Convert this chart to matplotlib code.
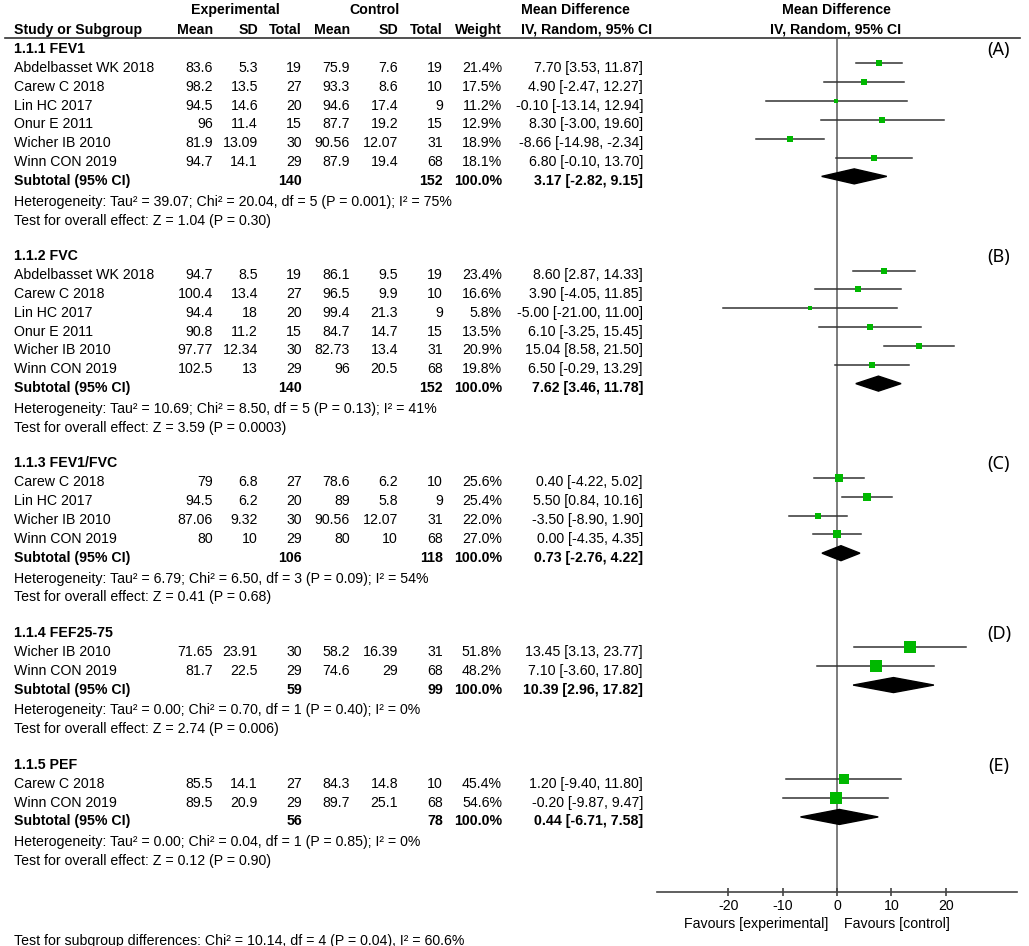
import matplotlib
matplotlib.use('Agg')
import matplotlib.pyplot as plt
from matplotlib.patches import Polygon

plt.rcParams['font.family'] = ['Liberation Sans', 'DejaVu Sans']
plt.rcParams['axes.unicode_minus'] = False

# Datos del forest plot
group_titles = ['1.1.1 FEV1', '1.1.2 FVC', '1.1.3 FEV1/FVC', '1.1.4 FEF25-75', '1.1.5 PEF']
panel_labels = ['(A)', '(B)', '(C)', '(D)', '(E)']

study_names = [
    ['Abdelbasset WK 2018', 'Carew C 2018', 'Lin HC 2017', 'Onur E 2011', 'Wicher IB 2010', 'Winn CON 2019'],
    ['Abdelbasset WK 2018', 'Carew C 2018', 'Lin HC 2017', 'Onur E 2011', 'Wicher IB 2010', 'Winn CON 2019'],
    ['Carew C 2018', 'Lin HC 2017', 'Wicher IB 2010', 'Winn CON 2019'],
    ['Wicher IB 2010', 'Winn CON 2019'],
    ['Carew C 2018', 'Winn CON 2019'],
]
exp_mean = [[83.6, 98.2, 94.5, 96, 81.9, 94.7],
            [94.7, 100.4, 94.4, 90.8, 97.77, 102.5],
            [79, 94.5, 87.06, 80],
            [71.65, 81.7],
            [85.5, 89.5]]
exp_sd = [[5.3, 13.5, 14.6, 11.4, 13.09, 14.1],
          [8.5, 13.4, 18, 11.2, 12.34, 13],
          [6.8, 6.2, 9.32, 10],
          [23.91, 22.5],
          [14.1, 20.9]]
exp_n = [[19, 27, 20, 15, 30, 29],
         [19, 27, 20, 15, 30, 29],
         [27, 20, 30, 29],
         [30, 29],
         [27, 29]]
ctl_mean = [[75.9, 93.3, 94.6, 87.7, 90.56, 87.9],
            [86.1, 96.5, 99.4, 84.7, 82.73, 96],
            [78.6, 89, 90.56, 80],
            [58.2, 74.6],
            [84.3, 89.7]]
ctl_sd = [[7.6, 8.6, 17.4, 19.2, 12.07, 19.4],
          [9.5, 9.9, 21.3, 14.7, 13.4, 20.5],
          [6.2, 5.8, 12.07, 10],
          [16.39, 29],
          [14.8, 25.1]]
ctl_n = [[19, 10, 9, 15, 31, 68],
         [19, 10, 9, 15, 31, 68],
         [10, 9, 31, 68],
         [31, 68],
         [10, 68]]
weights = [[21.4, 17.5, 11.2, 12.9, 18.9, 18.1],
           [23.4, 16.6, 5.8, 13.5, 20.9, 19.8],
           [25.6, 25.4, 22.0, 27.0],
           [51.8, 48.2],
           [45.4, 54.6]]
md = [[7.70, 4.90, -0.10, 8.30, -8.66, 6.80],
      [8.60, 3.90, -5.00, 6.10, 15.04, 6.50],
      [0.40, 5.50, -3.50, 0.00],
      [13.45, 7.10],
      [1.20, -0.20]]
ci_lo = [[3.53, -2.47, -13.14, -3.00, -14.98, -0.10],
         [2.87, -4.05, -21.00, -3.25, 8.58, -0.29],
         [-4.22, 0.84, -8.90, -4.35],
         [3.13, -3.60],
         [-9.40, -9.87]]
ci_hi = [[11.87, 12.27, 12.94, 19.60, -2.34, 13.70],
         [14.33, 11.85, 11.00, 15.45, 21.50, 13.29],
         [5.02, 10.16, 1.90, 4.35],
         [23.77, 17.80],
         [11.80, 9.47]]

sub_exp_n = [140, 140, 106, 59, 56]
sub_ctl_n = [152, 152, 118, 99, 78]
sub_md = [3.17, 7.62, 0.73, 10.39, 0.44]
sub_lo = [-2.82, 3.46, -2.76, 2.96, -6.71]
sub_hi = [9.15, 11.78, 4.22, 17.82, 7.58]

heterogeneity = [
    'Heterogeneity: Tau² = 39.07; Chi² = 20.04, df = 5 (P = 0.001); I² = 75%',
    'Heterogeneity: Tau² = 10.69; Chi² = 8.50, df = 5 (P = 0.13); I² = 41%',
    'Heterogeneity: Tau² = 6.79; Chi² = 6.50, df = 3 (P = 0.09); I² = 54%',
    'Heterogeneity: Tau² = 0.00; Chi² = 0.70, df = 1 (P = 0.40); I² = 0%',
    'Heterogeneity: Tau² = 0.00; Chi² = 0.04, df = 1 (P = 0.85); I² = 0%',
]
overall_effect = [
    'Test for overall effect: Z = 1.04 (P = 0.30)',
    'Test for overall effect: Z = 3.59 (P = 0.0003)',
    'Test for overall effect: Z = 0.41 (P = 0.68)',
    'Test for overall effect: Z = 2.74 (P = 0.006)',
    'Test for overall effect: Z = 0.12 (P = 0.90)',
]
subgroup_diff = 'Test for subgroup differences: Chi² = 10.14, df = 4 (P = 0.04), I² = 60.6%'

xticks = [-20, -10, 0, 10, 20]

# Layout en pixeles
W, H = 1029, 946
y0, dy = 44.5, 18.84
toff = 4.5          # el texto queda un poco por debajo de la linea del IC
fs = 10.2
col_x = [213, 258, 302, 350, 398, 443, 502]   # bordes derechos de columnas
ci_x = 643
axis_y = 891.7

fig = plt.figure(figsize=(W / 100, H / 100), dpi=100)
tax = fig.add_axes([0, 0, 1, 1])
tax.set_xlim(0, W)
tax.set_ylim(H, 0)
tax.axis('off')

fax = fig.add_axes([657 / W, 1 - axis_y / H, 360 / W, (axis_y - 38.5) / H])
fax.set_xlim(-33.1, 33.1)
fax.set_ylim(axis_y, 38.5)
fax.patch.set_alpha(0)
for s in ['top', 'left', 'right']:
    fax.spines[s].set_visible(False)
fax.spines['bottom'].set_color('#444444')
fax.spines['bottom'].set_linewidth(1.2)
fax.set_yticks([])
fax.set_xticks(xticks)
fax.tick_params(axis='x', direction='inout', length=6, width=1.2, color='#444444',
                labelsize=fs, pad=2)
fax.axvline(0, color='#666666', lw=1.2, zorder=1)

# Encabezados
tax.text(235, 10, 'Experimental', ha='center', va='center', fontsize=fs, fontweight='bold')
tax.text(375, 10, 'Control', ha='center', va='center', fontsize=fs, fontweight='bold')
tax.text(521, 10, 'Mean Difference', ha='left', va='center', fontsize=fs, fontweight='bold')
tax.text(836, 10, 'Mean Difference', ha='center', va='center', fontsize=fs, fontweight='bold')
tax.text(14, 30, 'Study or Subgroup', ha='left', va='center', fontsize=fs, fontweight='bold')
for x, lab in zip(col_x, ['Mean', 'SD', 'Total', 'Mean', 'SD', 'Total', 'Weight']):
    tax.text(x, 30, lab, ha='right', va='center', fontsize=fs, fontweight='bold')
tax.text(521, 30, 'IV, Random, 95% CI', ha='left', va='center', fontsize=fs, fontweight='bold')
tax.text(836, 30, 'IV, Random, 95% CI', ha='center', va='center', fontsize=fs, fontweight='bold')
tax.plot([5, 1020], [38.5, 38.5], color='#333333', lw=1.2)

green = '#00b800'
r = 0
for g in range(len(group_titles)):
    yt = y0 + r * dy + toff
    tax.text(14, yt, group_titles[g], ha='left', va='center', fontsize=fs, fontweight='bold')
    tax.text(999, yt + 1, panel_labels[g], ha='center', va='center', fontsize=13,
             family=['Noto Sans', 'DejaVu Sans'])
    r += 1
    for i in range(len(study_names[g])):
        y = y0 + r * dy
        vals = [exp_mean[g][i], exp_sd[g][i], exp_n[g][i],
                ctl_mean[g][i], ctl_sd[g][i], ctl_n[g][i]]
        tax.text(14, y + toff, study_names[g][i], ha='left', va='center', fontsize=fs)
        for x, v in zip(col_x, vals):
            tax.text(x, y + toff, str(v), ha='right', va='center', fontsize=fs)
        tax.text(col_x[6], y + toff, f'{weights[g][i]:.1f}%', ha='right', va='center', fontsize=fs)
        tax.text(ci_x, y + toff, f'{md[g][i]:.2f} [{ci_lo[g][i]:.2f}, {ci_hi[g][i]:.2f}]',
                 ha='right', va='center', fontsize=fs)
        fax.plot([ci_lo[g][i], ci_hi[g][i]], [y, y], color='#333333', lw=1.1, zorder=2)
        side = 2.9 + 0.17 * weights[g][i]
        fax.plot(md[g][i], y, 's', color=green, ms=side * 0.72, mew=0, zorder=3)
        r += 1
    y = y0 + r * dy
    yy = y + toff
    tax.text(14, yy, 'Subtotal (95% CI)', ha='left', va='center', fontsize=fs, fontweight='bold')
    tax.text(col_x[2], yy, str(sub_exp_n[g]), ha='right', va='center', fontsize=fs, fontweight='bold')
    tax.text(col_x[5], yy, str(sub_ctl_n[g]), ha='right', va='center', fontsize=fs, fontweight='bold')
    tax.text(col_x[6], yy, '100.0%', ha='right', va='center', fontsize=fs, fontweight='bold')
    tax.text(ci_x, yy, f'{sub_md[g]:.2f} [{sub_lo[g]:.2f}, {sub_hi[g]:.2f}]',
             ha='right', va='center', fontsize=fs, fontweight='bold')
    h = 7.5
    fax.add_patch(Polygon([(sub_lo[g], y), (sub_md[g], y - h), (sub_hi[g], y), (sub_md[g], y + h)],
                          closed=True, facecolor='black', edgecolor='black', zorder=3))
    r += 1
    tax.text(14, y0 + r * dy + toff + 2, heterogeneity[g], ha='left', va='center', fontsize=fs)
    r += 1
    tax.text(14, y0 + r * dy + toff + 2, overall_effect[g], ha='left', va='center', fontsize=fs)
    r += 2

tax.text(828, 924, 'Favours [experimental]', ha='right', va='center', fontsize=fs)
tax.text(844, 924, 'Favours [control]', ha='left', va='center', fontsize=fs)
tax.text(14, 941, subgroup_diff, ha='left', va='center', fontsize=fs)

fig.savefig('out.png', dpi=100)
